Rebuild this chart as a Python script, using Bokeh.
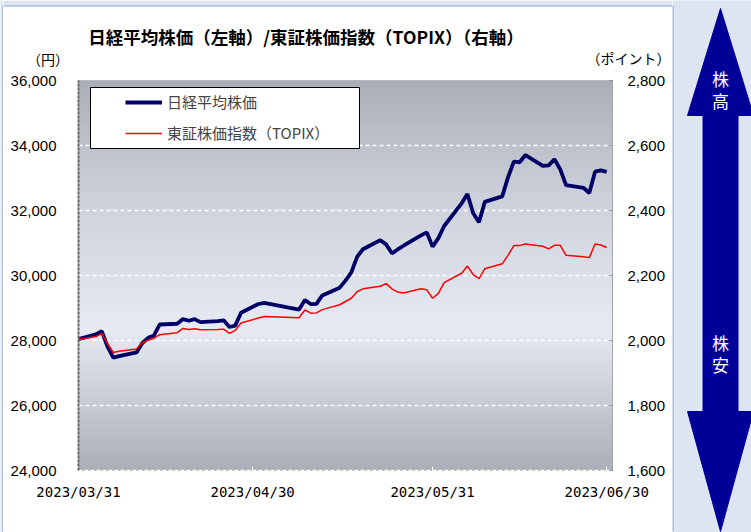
import numpy as np
import pandas as pd
from bokeh.plotting import figure
from bokeh.models import (Range1d, LinearAxis, FixedTicker, NumeralTickFormatter,
                          DatetimeTickFormatter, Legend, LegendItem,
                          BoxAnnotation, ColumnDataSource)
from bokeh.layouts import row, column
from bokeh.core.properties import value
from bokeh.embed import file_html
from bokeh.resources import INLINE

# ---------------- data ----------------
dates = [
    "2023-03-31",
    "2023-04-03", "2023-04-04", "2023-04-05", "2023-04-06", "2023-04-07",
    "2023-04-10", "2023-04-11", "2023-04-12", "2023-04-13", "2023-04-14",
    "2023-04-17", "2023-04-18", "2023-04-19", "2023-04-20", "2023-04-21",
    "2023-04-24", "2023-04-25", "2023-04-26", "2023-04-27", "2023-04-28",
    "2023-05-01", "2023-05-02", "2023-05-08", "2023-05-09", "2023-05-10",
    "2023-05-11", "2023-05-12", "2023-05-15", "2023-05-16", "2023-05-17",
    "2023-05-18", "2023-05-19", "2023-05-22", "2023-05-23", "2023-05-24",
    "2023-05-25", "2023-05-26", "2023-05-29", "2023-05-30", "2023-05-31",
    "2023-06-01", "2023-06-02", "2023-06-05", "2023-06-06", "2023-06-07",
    "2023-06-08", "2023-06-09", "2023-06-12", "2023-06-13", "2023-06-14",
    "2023-06-15", "2023-06-16", "2023-06-19", "2023-06-20", "2023-06-21",
    "2023-06-22", "2023-06-23", "2023-06-26", "2023-06-27", "2023-06-28",
    "2023-06-29", "2023-06-30",
]
nikkei = [
    28041, 28188, 28287, 27813, 27473, 27518, 27634, 27923, 28083, 28157,
    28493, 28515, 28659, 28607, 28658, 28564, 28594, 28620, 28416, 28458,
    28856, 29123, 29158, 28950, 29243, 29122, 29127, 29388, 29626, 29843,
    30094, 30574, 30808, 31087, 30958, 30683, 30801, 30916, 31234, 31328,
    30888, 31148, 31524, 32217, 32507, 31914, 31641, 32265, 32434, 33019,
    33502, 33485, 33706, 33370, 33389, 33575, 33265, 32782, 32699, 32538,
    33194, 33234, 33189,
]
topix = [
    2003, 2012, 2021, 1990, 1963, 1967, 1974, 1994, 2001, 2007,
    2018, 2024, 2037, 2034, 2036, 2033, 2034, 2035, 2022, 2031,
    2054, 2069, 2074, 2070, 2094, 2084, 2085, 2095, 2110, 2120,
    2130, 2150, 2159, 2167, 2175, 2159, 2149, 2146, 2159, 2156,
    2130, 2145, 2178, 2207, 2229, 2203, 2190, 2221, 2236, 2262,
    2292, 2292, 2297, 2290, 2282, 2293, 2293, 2262, 2258, 2255,
    2297, 2294, 2286,
]
x_tick_labels = ["2023/03/31", "2023/04/30", "2023/05/31", "2023/06/30"]
left_ticks = [24000, 26000, 28000, 30000, 32000, 34000, 36000]
right_ticks = [1600, 1800, 2000, 2200, 2400, 2600, 2800]
series_names = ["日経平均株価", "東証株価指数（TOPIX）"]
title_text = "日経平均株価（左軸）/東証株価指数（TOPIX）（右軸）"
left_unit = "（円）"
right_unit = "（ポイント）"
arrow_top = ["株", "高"]
arrow_bottom = ["株", "安"]

# ---------------- styling ----------------
BG = "#dde5f1"
BORDER = "#7f9bd0"
JP = "Noto Sans CJK JP"


def deco_fig(w, h, x0, x1, y0, y1, bg):
    f = figure(width=w, height=h, x_range=Range1d(x0, x1), y_range=Range1d(y1, y0),
               output_backend="svg", toolbar_location=None, min_border=0,
               min_border_left=0, min_border_right=0, min_border_top=0, min_border_bottom=0,
               x_axis_location=None, y_axis_location=None,
               background_fill_color=bg, border_fill_color=bg, outline_line_color=None,
               frame_align=False)
    f.grid.visible = False
    return f


# ---------------- left border strip (page x 0..3) ----------------
L = deco_fig(3, 532, 0, 3, 0, 532, BG)
L.quad(left=[2], right=[3], top=[5], bottom=[531], fill_color=BORDER, line_color=None)

# ---------------- title strip (page x 3..672, y 0..68) ----------------
T = deco_fig(669, 68, 3, 672, 0, 68, "white")
T.quad(left=[3], right=[672], top=[0], bottom=[5], fill_color=BG, line_color=None)
T.quad(left=[3], right=[672], top=[5], bottom=[6], fill_color=BORDER, line_color=None)
T.text(x=[305.5], y=[35.5], text=[title_text], text_align="center", text_baseline="middle",
       text_font=value(JP), text_font_size="17.5px", text_font_style="bold", text_color="black")
T.text(x=[47.5, 628], y=[58, 57.5], text=[left_unit, right_unit], text_align="center",
       text_baseline="middle", text_font=value(JP), text_font_size="14px", text_color="black")

# ---------------- bottom border strip (page x 3..672, y 530..532) ----------------
B = deco_fig(669, 2, 3, 672, 530, 532, BG)
B.quad(left=[3], right=[672], top=[530], bottom=[531], fill_color=BORDER, line_color=None)

# ---------------- chart (page x 3..672, y 68..530) ----------------
src = ColumnDataSource(dict(date=pd.to_datetime(dates), nikkei=nikkei, topix=topix))

x0 = pd.Timestamp("2023-03-31")
x1 = pd.Timestamp("2023-07-01")
ms = lambda t: t.value / 1e6

p = figure(width=669, height=462, x_axis_type="datetime",
           x_range=Range1d(ms(x0), ms(x1)), y_range=Range1d(left_ticks[0], left_ticks[-1]),
           output_backend="svg", toolbar_location=None,
           min_border_left=75, min_border_right=60, min_border_top=12, min_border_bottom=60,
           background_fill_color="#d3d8e1", border_fill_color="white", frame_align=False)
p.outline_line_color = "#8a8a8a"
p.outline_line_dash = "1 1"
p.outline_line_width = 1

# vertical gradient background of the plot area
H = 390
stops_f = [0.0, 0.30, 0.64, 1.0]
stops_c = [(170, 174, 183), (203, 208, 218), (229, 234, 243), (170, 174, 183)]
img = np.empty((H, 1), dtype=np.uint32)
view = img.view(dtype=np.uint8).reshape((H, 1, 4))
for i in range(H):
    f = 1.0 - (i + 0.5) / H
    for c in range(3):
        view[i, 0, c] = int(round(np.interp(f, stops_f, [s[c] for s in stops_c])))
    view[i, 0, 3] = 255
p.image_rgba(image=[img], x=ms(x0), y=left_ticks[0], dw=ms(x1) - ms(x0),
             dh=left_ticks[-1] - left_ticks[0], level="image")

# grid
p.xgrid.visible = False
p.ygrid.ticker = FixedTicker(ticks=left_ticks[1:-1])
p.ygrid.grid_line_color = "white"
p.ygrid.grid_line_dash = "4 3"
p.ygrid.grid_line_width = 1.5

# x axis
xa = p.xaxis[0]
xa.ticker = FixedTicker(ticks=[ms(pd.Timestamp(s.replace("/", "-"))) for s in x_tick_labels])
fmt = "%Y/%m/%d"
xa.formatter = DatetimeTickFormatter(microseconds=fmt, milliseconds=fmt, seconds=fmt, minsec=fmt,
                                     minutes=fmt, hourmin=fmt, hours=fmt, days=fmt,
                                     months=fmt, years=fmt)
xa.axis_line_color = "white"
xa.axis_line_dash = "4 2"
xa.axis_line_width = 1.5
xa.major_tick_in = 4
xa.major_tick_out = 0
xa.major_tick_line_color = "white"
xa.minor_tick_line_color = None
xa.major_label_standoff = 13
xa.major_label_text_font = "DejaVu Sans Mono"
xa.major_label_text_font_size = "14px"
xa.major_label_text_color = "black"

# left axis
ya = p.yaxis[0]
ya.ticker = FixedTicker(ticks=left_ticks)
ya.formatter = NumeralTickFormatter(format="0,0")
ya.axis_line_color = "#666666"
ya.axis_line_dash = "3 1"
ya.axis_line_width = 2
ya.major_tick_line_color = None
ya.minor_tick_line_color = None
ya.major_label_standoff = 16
ya.major_label_text_font = "Liberation Sans"
ya.major_label_text_font_size = "15px"
ya.major_label_text_color = "black"

# right axis
p.extra_y_ranges = {"topix": Range1d(right_ticks[0], right_ticks[-1])}
ra = LinearAxis(y_range_name="topix", ticker=FixedTicker(ticks=right_ticks),
                formatter=NumeralTickFormatter(format="0,0"))
ra.axis_line_color = "#8a8a8a"
ra.axis_line_dash = "1 1"
ra.axis_line_width = 1
ra.major_tick_in = 3
ra.major_tick_out = 0
ra.major_tick_line_color = "#8a8a8a"
ra.minor_tick_line_color = None
ra.major_label_standoff = 15
ra.major_label_text_font = "Liberation Sans"
ra.major_label_text_font_size = "15px"
ra.major_label_text_color = "black"
p.add_layout(ra, "right")

# lines
r1 = p.line(x="date", y="nikkei", source=src, line_color="#000066", line_width=3.8)
r2 = p.line(x="date", y="topix", source=src, y_range_name="topix",
            line_color="#ff0000", line_width=1.5)

# legend box + legend
box = BoxAnnotation(left=12, right=281, bottom=322, top=383,
                    left_units="screen", right_units="screen",
                    bottom_units="screen", top_units="screen",
                    fill_color="white", fill_alpha=1.0,
                    line_color="black", line_width=1, line_alpha=1.0)
p.add_layout(box)
legend = Legend(items=[LegendItem(label=series_names[0], renderers=[r1]),
                       LegendItem(label=series_names[1], renderers=[r2])],
                location=(47, 327), padding=0, spacing=10, margin=0,
                glyph_width=37, glyph_height=20, label_height=20, label_standoff=5,
                border_line_alpha=0, background_fill_alpha=0,
                label_text_font=JP, label_text_font_size="15px")
p.add_layout(legend)

# ---------------- arrow panel (page x 672..751) ----------------
a = deco_fig(79, 532, 672, 751, 0, 532, BG)
a.quad(left=[672], right=[673], top=[5], bottom=[531], fill_color=BORDER, line_color=None)
cx, hw, sw = 720, 33, 17.5
t_tip, t_base, b_base, b_tip = 8, 115, 411, 531
a.patch([cx, cx + hw, cx + sw, cx + sw, cx + hw, cx, cx - hw, cx - sw, cx - sw, cx - hw],
        [t_tip, t_base, t_base, b_base, b_base, b_tip, b_base, b_base, t_base, t_base],
        fill_color="#000099", line_color="#000099")
a.text(x=[cx] * 4, y=[78, 100, 342, 364], text=arrow_top + arrow_bottom,
       text_color="white", text_align="center", text_baseline="middle",
       text_font=value(JP), text_font_size="17px")

root = row(L, column(T, p, B), a)
open("out.html", "w").write(file_html(root, INLINE))
